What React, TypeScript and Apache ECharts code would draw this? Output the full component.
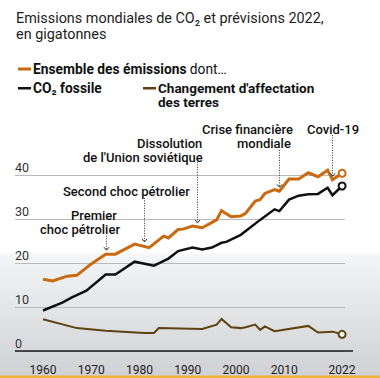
import React, { useEffect, useRef } from 'react';
import * as echarts from 'echarts';

const xTickLabels = [1960, 1970, 1980, 1990, 2000, 2010, 2022];

const totalYears = [1960, 1962, 1965, 1967, 1970, 1973, 1975, 1979, 1982, 1985, 1986, 1988, 1989, 1991, 1993, 1996, 1997, 1999, 2001, 2002, 2004, 2005, 2006, 2008, 2009, 2011, 2013, 2015, 2017, 2019, 2020, 2022];
const totalValues = [16.3, 15.9, 17.0, 17.2, 19.8, 22.0, 22.0, 24.3, 23.5, 26.1, 25.7, 27.6, 27.7, 28.4, 28.0, 29.8, 31.9, 30.5, 30.7, 31.3, 34.1, 34.4, 35.8, 36.7, 36.3, 39.1, 39.1, 40.5, 39.6, 41.1, 38.9, 40.4];

const fossilYears = [1960, 1964, 1966, 1969, 1973, 1975, 1979, 1983, 1986, 1988, 1991, 1993, 1995, 1997, 1998, 2001, 2005, 2008, 2009, 2011, 2013, 2015, 2017, 2019, 2020, 2022];
const fossilValues = [9.2, 11.0, 12.2, 13.7, 17.4, 17.4, 20.3, 19.4, 21.0, 22.7, 23.5, 23.1, 23.5, 24.6, 24.8, 26.4, 29.8, 32.2, 31.8, 34.4, 35.3, 35.6, 35.7, 37.1, 35.4, 37.5];

const landYears = [1960, 1967, 1973, 1981, 1983, 1984, 1993, 1996, 1997, 1999, 2001, 2002, 2004, 2005, 2006, 2008, 2015, 2017, 2020, 2022];
const landValues = [7.2, 5.2, 4.6, 4.1, 4.1, 5.2, 5.0, 6.0, 7.3, 5.4, 5.2, 5.4, 6.0, 4.8, 5.6, 4.5, 5.7, 4.2, 4.4, 3.8];

// annotation arrows (year, top value, bottom value)
const annoYears = [1973, 1981, 1992, 2009, 2020];
const annoTop = [26.2, 34.8, 43.0, 45.7, 49.1];
const annoBottom = [22.9, 24.8, 29.1, 37.2, 39.7];

const ORANGE = '#c96a10';
const BLACK = '#111111';
const BROWN = '#5e4212';
const FONT = 'Roboto, "Noto Sans", sans-serif';

function pairs(xs: number[], ys: number[]) {
  return xs.map((x, i) => [x, ys[i]]);
}

function lineSeries(name: string, xs: number[], ys: number[], color: string, width: number) {
  const last = xs.length - 1;
  return {
    name,
    type: 'line',
    data: pairs(xs, ys),
    clip: false,
    showSymbol: true,
    showAllSymbol: true,
    symbol: (_v: any, p: any) => (p.dataIndex === last ? 'circle' : 'none'),
    symbolSize: 7,
    itemStyle: { color: '#ffffff', borderColor: color, borderWidth: 2 },
    lineStyle: { color, width, join: 'miter' },
    emphasis: { disabled: true },
    silent: true,
    z: 3,
  };
}

export default function App() {
  const ref = useRef<HTMLDivElement>(null);
  useEffect(() => {
    const chart = echarts.init(ref.current!, null, { renderer: 'svg' });
    chart.setOption({
      animation: false,
      grid: { left: 15, right: 35, top: 175, bottom: 27, containLabel: false, outerBoundsMode: 'none' },
      xAxis: {
        type: 'value',
        min: 1954.2,
        max: 2022.6,
        axisLine: { show: false },
        axisTick: { show: false },
        splitLine: { show: false },
        axisLabel: {
          customValues: xTickLabels,
          formatter: (v: number) => String(v),
          color: '#222',
          fontSize: 12,
          fontFamily: FONT,
          margin: 13,
        },
      },
      yAxis: {
        type: 'value',
        min: 0,
        max: 40,
        interval: 10,
        axisLine: { show: false },
        axisTick: { show: false },
        splitLine: { lineStyle: { color: '#b9b9b9', width: 1 } },
        axisLabel: {
          inside: true,
          margin: 0,
          verticalAlign: 'bottom',
          color: '#333',
          fontSize: 12.5,
          fontFamily: FONT,
          padding: [0, 0, 1, 0],
        },
      },
      series: [
        lineSeries('Changement d\'affectation des terres', landYears, landValues, BROWN, 2),
        lineSeries('CO₂ fossile', fossilYears, fossilValues, BLACK, 2.5),
        lineSeries('Ensemble des émissions', totalYears, totalValues, ORANGE, 3),
      ],
    });

    const g: any[] = [];
    const p0 = chart.convertToPixel({ xAxisIndex: 0, yAxisIndex: 0 }, [1954.2, 0]) as number[];
    g.push({ type: 'line', shape: { x1: p0[0], y1: p0[1], x2: p0[0] + 338, y2: p0[1] }, style: { stroke: '#1a1a1a', lineWidth: 1.5 }, z: 10 });

    annoYears.forEach((yr, i) => {
      const a = chart.convertToPixel({ xAxisIndex: 0, yAxisIndex: 0 }, [yr, annoTop[i]]) as number[];
      const b = chart.convertToPixel({ xAxisIndex: 0, yAxisIndex: 0 }, [yr, annoBottom[i]]) as number[];
      const x = Math.round(a[0]) + 0.5;
      g.push({ type: 'line', shape: { x1: x, y1: a[1], x2: x, y2: b[1] }, style: { stroke: '#333', lineWidth: 1, lineDash: [1, 1.5] }, z: 10 });
      g.push({ type: 'polyline', shape: { points: [[x - 2.5, b[1] - 3], [x, b[1]], [x + 2.5, b[1] - 3]] }, style: { stroke: '#333', lineWidth: 1, fill: null }, z: 10 });
    });

    const annoFont = `500 13px ${FONT}`;
    const txt = (text: string, x: number, y: number, font: string, fill = '#111') => ({
      type: 'text', x, y, z: 20,
      style: { text, font, fill, align: 'left', verticalAlign: 'middle' },
    });
    g.push(txt('Premier', 71, 215, annoFont));
    g.push(txt('choc pétrolier', 40, 229, annoFont));
    g.push(txt('Second choc pétrolier', 63, 191, annoFont));
    g.push(txt('Dissolution', 137, 143, annoFont));
    g.push(txt("de l'Union soviétique", 83, 157, annoFont));
    g.push(txt('Crise financière', 202, 129, annoFont));
    g.push(txt('mondiale', 237, 143, annoFont));
    g.push(txt('Covid-19', 307, 129, annoFont));

    const titleFont = `400 14.4px ${FONT}`;
    g.push(txt('Emissions mondiales de CO₂ et prévisions 2022,', 16, 18, titleFont, '#222'));
    g.push(txt('en gigatonnes', 16, 34, titleFont, '#222'));

    g.push({ type: 'rect', shape: { x: 18, y: 67.5, width: 13, height: 3 }, style: { fill: ORANGE } });
    g.push({
      type: 'text', x: 33, y: 69, z: 20,
      style: {
        text: '{b|Ensemble des émissions} {r|dont…}',
        verticalAlign: 'middle', align: 'left',
        rich: {
          b: { font: `bold 13.8px ${FONT}`, fill: '#111' },
          r: { font: `400 13.8px ${FONT}`, fill: '#111' },
        },
      },
    });
    g.push({ type: 'rect', shape: { x: 18, y: 87, width: 13, height: 2.5 }, style: { fill: BLACK } });
    g.push(txt('CO₂ fossile', 33, 88, `bold 13.8px ${FONT}`));
    g.push({ type: 'rect', shape: { x: 143, y: 87, width: 13, height: 2.5 }, style: { fill: BROWN } });
    g.push(txt("Changement d'affectation", 158, 87.5, `bold 13.5px ${FONT}`));
    g.push(txt('des terres', 158, 102, `bold 13.5px ${FONT}`));

    chart.setOption({ graphic: g });
    return () => chart.dispose();
  }, []);
  return (
    <div
      ref={ref}
      style={{
        position: 'absolute',
        left: 0,
        top: 0,
        width: 380,
        height: 378,
        background:
          'linear-gradient(to bottom, #ffffff 0px, #ffffff 252px, #f4f5f6 256px, #d0d1d4 375px, #f1b43b 376px, #f1b43b 378px)',
      }}
    />
  );
}
